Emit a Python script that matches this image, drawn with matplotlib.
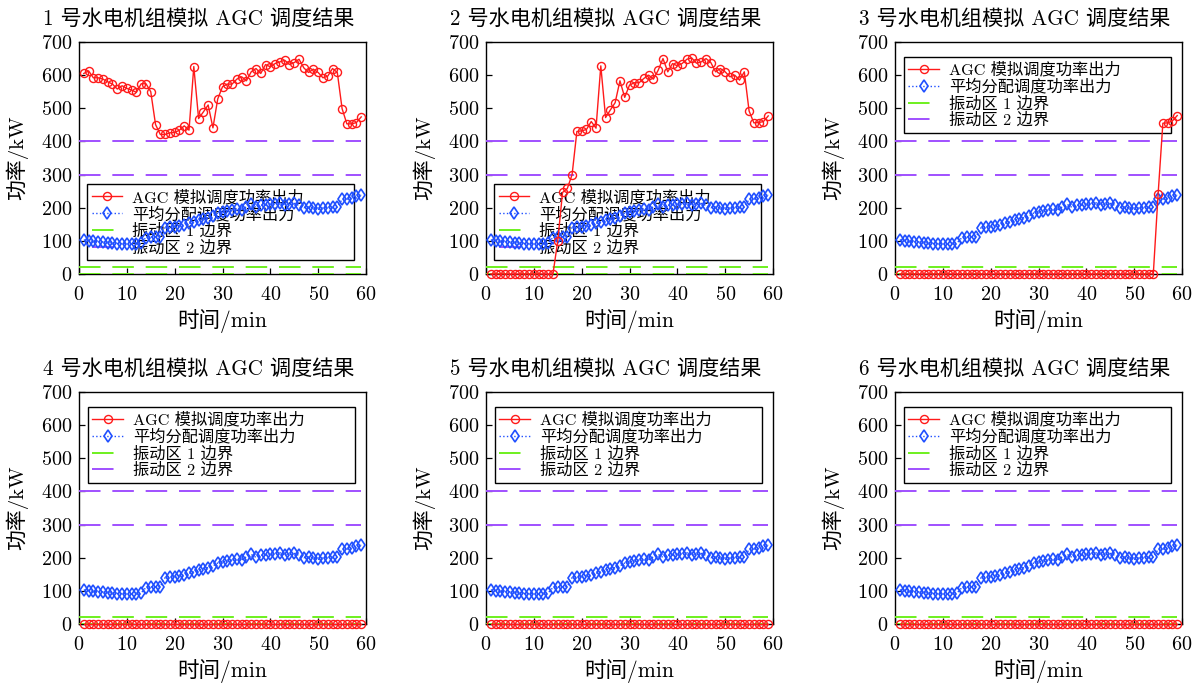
import matplotlib
matplotlib.use("Agg")
import matplotlib.pyplot as plt

plt.rcParams['font.family'] = ['cmr10', 'Noto Sans CJK SC']
plt.rcParams['axes.formatter.use_mathtext'] = True
plt.rcParams['axes.unicode_minus'] = False
plt.rcParams['lines.scale_dashes'] = False

# time axis (minutes)
minutes = list(range(1, 60))

# average-distribution dispatch output (same for every unit), kW
avg_output = [103, 100, 99, 98, 97, 95, 94, 92, 92, 91, 90, 90, 94, 110, 112,
              112, 113, 140, 142, 143, 145, 148, 153, 157, 162, 167, 170, 175,
              184, 188, 190, 193, 195, 193, 203, 210, 201, 207, 208, 210, 212,
              215, 209, 210, 213, 207, 200, 203, 200, 195, 200, 200, 201, 202,
              225, 226, 229, 236, 238]

# AGC simulated dispatch output per unit, kW
agc_unit1 = [605, 613, 592, 592, 588, 580, 573, 558, 568, 560, 555, 548, 574,
             574, 550, 451, 421, 421, 426, 427, 434, 447, 434, 626, 469, 489,
             510, 441, 528, 565, 573, 573, 588, 595, 583, 610, 620, 605, 632,
             625, 635, 640, 645, 632, 638, 648, 622, 608, 618, 608, 592, 597,
             620, 608, 499, 453, 453, 457, 474]
agc_unit2 = [0] * 14 + [100, 246, 258, 300, 430, 432, 436, 460, 440, 628, 472,
                        495, 517, 583, 533, 570, 577, 577, 590, 600, 588, 615,
                        650, 610, 635, 628, 635, 648, 652, 636, 640, 650, 638,
                        610, 620, 610, 595, 600, 585, 610, 492, 456, 457, 460,
                        477]
agc_unit3 = [0] * 54 + [240, 455, 456, 462, 478]
agc_unit4 = [0] * 59
agc_unit5 = [0] * 59
agc_unit6 = [0] * 59
agc_units = [agc_unit1, agc_unit2, agc_unit3, agc_unit4, agc_unit5, agc_unit6]

# vibration zone boundaries, kW
zone1_bounds = [0, 20]
zone2_bounds = [300, 400]
zone_span = [0, 59]

titles = [f"{i} 号水电机组模拟 AGC 调度结果" for i in range(1, 7)]
legend_labels = ["AGC 模拟调度功率出力", "平均分配调度功率出力",
                 "振动区 1 边界", "振动区 2 边界"]

RED = "#ff1a1a"
BLUE = "#1f4fff"
GREEN = "#6ef01e"
PURPLE = "#a050ff"
DASH = (0, (15.5, 8.5))

W, H = 1200, 687
fig = plt.figure(figsize=(W / 100, H / 100), dpi=100)

lefts = [79, 486, 895]
bottoms = [274, 624]
ax_w, ax_h = 287, 232

# legend placement per panel: (anchor corner, x0, y, width)
legend_place = [("lower left", 0.027, 0.060, 0.930),
                ("lower left", 0.027, 0.060, 0.930)] + \
               [("upper left", 0.030, 0.935, 0.930)] * 4

for idx in range(6):
    row, col = divmod(idx, 3)
    ax = fig.add_axes([lefts[col] / W, (H - bottoms[row]) / H, ax_w / W, ax_h / H])

    h_agc, = ax.plot(minutes, agc_units[idx], color=RED, lw=1.0, marker='o',
                     ms=5.8, mfc='none', mec=RED, mew=1.0, clip_on=False, zorder=5)
    h_avg, = ax.plot(minutes, avg_output, color=BLUE, lw=1.0, ls=':', marker='d',
                     ms=6.2, mfc='none', mec=BLUE, mew=1.2, zorder=4)
    h_z1 = None
    for b in zone1_bounds:
        h_z1, = ax.plot(zone_span, [b, b], color=GREEN, lw=1.4, ls=DASH, zorder=3)
    h_z2 = None
    for b in zone2_bounds:
        h_z2, = ax.plot(zone_span, [b, b], color=PURPLE, lw=1.4, ls=DASH, zorder=3)

    ax.set_xlim(0, 60)
    ax.set_ylim(0, 700)
    ax.set_xticks(range(0, 61, 10))
    ax.set_yticks(range(0, 701, 100))
    ax.tick_params(direction='in', length=4, width=0.9, labelsize=14.5,
                   top=False, right=False)
    ax.tick_params(axis='x', pad=9)
    ax.tick_params(axis='y', pad=5)
    for s in ax.spines.values():
        s.set_linewidth(1.0)
    ax.set_title(titles[idx], fontsize=15.2, pad=12, x=0.418)
    ax.set_xlabel("时间/min", fontsize=15.5, labelpad=3)
    ax.set_ylabel("功率/kW", fontsize=15)
    ax.yaxis.set_label_coords(-0.178, 0.5)

    loc, x0, y0, w = legend_place[idx]
    leg = ax.legend([h_agc, h_avg, h_z1, h_z2], legend_labels,
                    loc=loc, bbox_to_anchor=(x0, y0, w, 0.0),
                    mode='expand', fontsize=11.7, frameon=True, fancybox=False,
                    edgecolor='black', framealpha=1, borderpad=0.3,
                    labelspacing=0.08, handlelength=1.9, handletextpad=0.6,
                    borderaxespad=0)
    frame = leg.get_frame()
    frame.set_facecolor('none')
    frame.set_linewidth(1.0)
    leg.set_zorder(2)

fig.savefig("out.png", dpi=100)
